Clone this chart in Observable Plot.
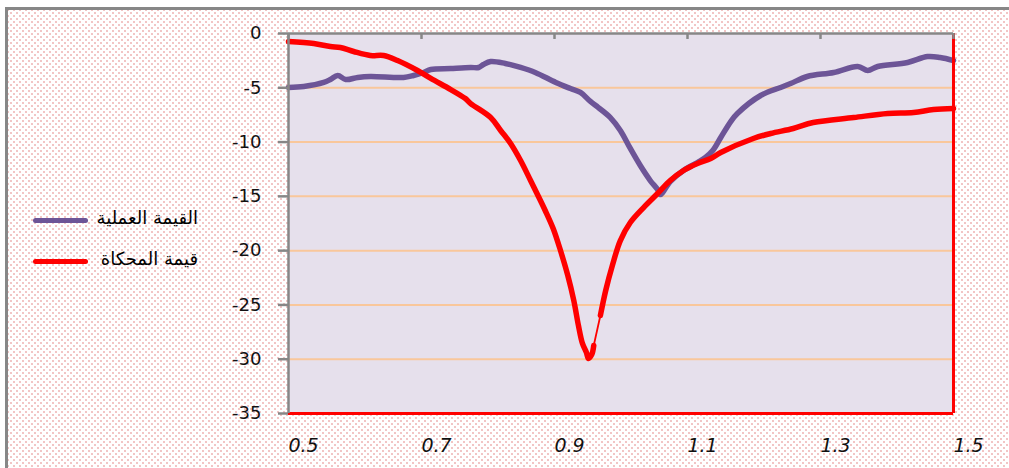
<!DOCTYPE html>
<html><head><meta charset="utf-8">
<script src="https://cdn.jsdelivr.net/npm/d3@7"></script>
<script src="https://cdn.jsdelivr.net/npm/@observablehq/plot@0.6"></script>
<style>
html,body{margin:0;padding:0;width:1009px;height:468px;overflow:hidden;background:#fff;}
#bg{position:absolute;left:5px;top:7px;width:1100px;height:600px;border:3px solid #878787;
 background-color:#fff;
 background-image:radial-gradient(circle, rgba(228,140,140,0.5) 1px, transparent 1.4px),radial-gradient(circle, rgba(228,140,140,0.5) 1px, transparent 1.4px);
 background-size:6px 6px;background-position:0 0,3px 3px;}
#plot{position:absolute;left:0;top:0;}
.leg{position:absolute;left:0;width:198px;text-align:right;direction:rtl;font-family:"DejaVu Sans";font-size:18px;color:#000;line-height:22px;}
.sw{position:absolute;left:33px;width:55px;height:5px;border-radius:3px;}
</style>
</head><body>
<div id="bg"></div>
<div id="plot"></div>
<div id="legend"></div>
<script>
const xTicks = [0.5, 0.7, 0.9, 1.1, 1.3, 1.5];
const yTicks = [0, -5, -10, -15, -20, -25, -30, -35];
const gridY = [-5, -10, -15, -20, -25, -30];
const seriesNames = ["القيمة العملية", "قيمة المحكاة"];
const seriesColors = ["#6d5597", "#ff0000"];

// experimental (purple)
const expX = [0.500,0.523,0.553,0.563,0.574,0.586,0.604,0.623,0.673,0.688,0.703,0.714,0.744,0.774,0.786,0.793,0.804,0.826,0.849,0.871,0.902,0.924,0.939,0.954,0.966,0.984,0.999,1.014,1.029,1.044,1.055,1.059,1.074,1.094,1.115,1.127,1.138,1.150,1.165,1.175,1.210,1.240,1.255,1.280,1.320,1.356,1.371,1.386,1.431,1.461,1.480,1.500];
const expY = [-4.97,-4.88,-4.51,-4.24,-3.87,-4.24,-4.05,-3.96,-4.05,-3.87,-3.59,-3.32,-3.22,-3.13,-3.13,-2.86,-2.58,-2.76,-3.13,-3.59,-4.51,-5.07,-5.43,-6.26,-6.82,-7.74,-8.93,-10.59,-12.16,-13.54,-14.37,-14.83,-13.63,-12.62,-11.88,-11.42,-10.78,-9.58,-8.11,-7.37,-5.71,-4.97,-4.61,-3.96,-3.59,-3.04,-3.41,-3.04,-2.67,-2.12,-2.21,-2.49];

// simulated (red)
const simX = [0.500,0.538,0.563,0.578,0.598,0.623,0.643,0.664,0.694,0.714,0.744,0.766,0.774,0.804,0.819,0.834,0.849,0.864,0.886,0.898,0.909,0.920,0.929,0.936,0.942,0.948,0.951,0.956,0.959,0.969,0.977,0.987,0.999,1.014,1.034,1.055,1.074,1.094,1.115,1.135,1.150,1.199,1.225,1.259,1.289,1.350,1.401,1.440,1.470,1.500];
const simY = [-0.74,-0.92,-1.20,-1.29,-1.66,-2.03,-2.03,-2.49,-3.41,-4.14,-5.16,-5.99,-6.45,-7.74,-8.93,-10.13,-11.70,-13.54,-16.30,-17.96,-19.99,-22.29,-24.59,-26.90,-28.55,-29.38,-29.93,-29.57,-28.74,-25.97,-23.67,-21.37,-19.07,-17.41,-16.03,-14.74,-13.54,-12.62,-11.97,-11.51,-10.96,-9.67,-9.21,-8.75,-8.20,-7.74,-7.37,-7.28,-7.00,-6.91];
// thin connector in the simulated curve starts after this x
const simThinAfter = 0.959;

const exp = expX.map((x, i) => ({x, y: expY[i]}));
const sim = simX.map((x, i) => ({x, y: simY[i]}));
const k = simX.indexOf(simThinAfter);
const simA = sim.slice(0, k + 1), simB = sim.slice(k + 1), simLink = sim.slice(k, k + 2);

const gray = "#878787";
const thick = {x: "x", y: "y", strokeWidth: 5.5, strokeLinejoin: "round", strokeLinecap: "round", curve: "catmull-rom"};
const chart = Plot.plot({
  width: 1009, height: 468,
  marginLeft: 288, marginRight: 56, marginTop: 33, marginBottom: 55,
  style: {fontFamily: "DejaVu Sans", fontSize: "18px", background: "transparent", overflow: "visible"},
  x: {domain: [0.5, 1.5]},
  y: {domain: [-35, 0]},
  marks: [
    Plot.frame({fill: "#e6e0ec", stroke: "none"}),
    Plot.ruleY(gridY, {stroke: "#f9c79b", strokeWidth: 2}),
    Plot.line(exp, {...thick, stroke: seriesColors[0]}),
    Plot.line(simA, {...thick, stroke: seriesColors[1]}),
    Plot.line(simLink, {x: "x", y: "y", stroke: seriesColors[1], strokeWidth: 1.8}),
    Plot.line(simB, {...thick, stroke: seriesColors[1]}),
    Plot.ruleX([1.5], {stroke: "#ff0000", strokeWidth: 3}),
    Plot.ruleY([-35], {stroke: "#ff0000", strokeWidth: 3}),
    Plot.ruleX([0.5], {stroke: gray, strokeWidth: 2.5}),
    Plot.ruleY([0], {stroke: gray, strokeWidth: 2.5}),
    Plot.ruleX(xTicks, {y1: 0, y2: -0.55, stroke: gray, strokeWidth: 2.5}),
    Plot.axisY({ticks: yTicks, tickSize: 10, tickPadding: 17, stroke: gray, strokeWidth: 2.5, fill: "#111", fontSize: 18, tickFormat: d => String(d), label: null}),
    Plot.axisX({ticks: xTicks, tickSize: 0, tickPadding: 25, dx: 15, fill: "#111", fontSize: 19, fontStyle: "italic", tickFormat: d => String(d), label: null})
  ]
});
document.getElementById("plot").appendChild(chart);

const leg = document.getElementById("legend");
const legY = [220, 261];
seriesNames.forEach((name, i) => {
  const sw = document.createElement("div");
  sw.className = "sw";
  sw.style.top = (legY[i] - 2.5) + "px";
  sw.style.background = seriesColors[i];
  leg.appendChild(sw);
  const t = document.createElement("div");
  t.className = "leg";
  t.style.top = (legY[i] - 13) + "px";
  t.textContent = name;
  leg.appendChild(t);
});
</script>
</body></html>
